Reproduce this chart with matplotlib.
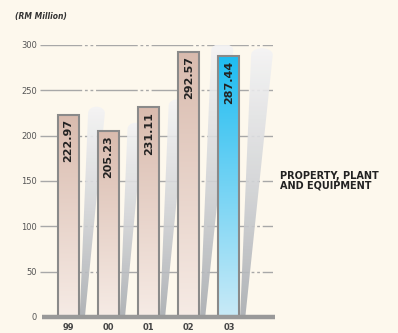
import numpy as np
import matplotlib.pyplot as plt
from matplotlib.patches import Rectangle, Polygon
from matplotlib.colors import LinearSegmentedColormap

# chart data
years = ['99', '00', '01', '02', '03']
values = [222.97, 205.23, 231.11, 292.57, 287.44]
yticks = [0, 50, 100, 150, 200, 250, 300]

bg = '#fdf8ed'
pink = LinearSegmentedColormap.from_list('pink', ['#d9bbae', '#f6ebe5'])
blue = LinearSegmentedColormap.from_list('blue', ['#1ebcf1', '#c9eaf7'])
grey = LinearSegmentedColormap.from_list('grey', ['#f4f4f5', '#d2d4d7', '#a8acb1'])
grad = np.linspace(0, 1, 256).reshape(-1, 1)

fig = plt.figure(figsize=(3.98, 3.33), dpi=100, facecolor=bg)
ax = fig.add_axes([40 / 398, 16 / 333, 233 / 398, 272 / 333])
ax.set_facecolor(bg)
for s in ax.spines.values():
    s.set_visible(False)

xmin, xmax = -0.71, 5.1
width = 0.52

# dash-dot gridlines
for y in yticks[1:]:
    ax.plot([xmin, xmax], [y, y], color='#a8a8a8', lw=1.0,
            dashes=(30, 2, 2, 2, 2, 2), zorder=1, solid_capstyle='butt')

# bars, shadows and labels
for i, (yr, v) in enumerate(zip(years, values)):
    k = v / max(values)
    right = i + width / 2
    # shadow wedge leaning right, rounded top
    tl = right + 0.30 * k
    tr = right + 0.85 * k
    arc = np.linspace(0, np.pi, 12)
    top_pts = [((tl + tr) / 2 - (tr - tl) / 2 * np.cos(a), v + 2 + 7 * np.sin(a)) for a in arc]
    pts = [(right + 0.02, 0), (right + 0.15, 0)] + top_pts[::-1]
    shadow = Polygon(pts, closed=True, facecolor='none', edgecolor='none')
    ax.add_patch(shadow)
    im = ax.imshow(grad, cmap=grey, aspect='auto', origin='upper',
                   extent=(right, tr + 0.05, 0, v + 10), zorder=2, alpha=0.9)
    im.set_clip_path(shadow)

    # bar with vertical gradient
    cmap = blue if i == len(years) - 1 else pink
    bar = Rectangle((i - width / 2, 0), width, v, facecolor='none',
                    edgecolor='#8a8a8a', lw=1.5, zorder=4)
    ax.add_patch(bar)
    im = ax.imshow(grad, cmap=cmap, aspect='auto', origin='upper',
                   extent=(i - width / 2, i + width / 2, 0, v), zorder=3)
    im.set_clip_path(bar)

    ax.text(i, v - 5, f'{v:.2f}', rotation=90, ha='center', va='top',
            fontsize=8, fontweight='bold', color='#222222', zorder=5)

# base line
ax.plot([xmin + 0.05, xmax + 0.05], [0, 0], color='#999999', lw=3.2,
        zorder=6, clip_on=False, solid_capstyle='butt')

ax.set_xlim(xmin, xmax)
ax.set_ylim(0, 300)
ax.set_xticks(range(len(years)))
ax.set_xticklabels(years, fontsize=6, fontweight='bold', color='#444444')
ax.set_yticks(yticks)
ax.set_yticklabels([str(t) for t in yticks], fontsize=6, color='#555555')
ax.tick_params(axis='both', length=0)
ax.tick_params(axis='x', pad=4)
ax.tick_params(axis='y', pad=2)

fig.text(15 / 398, 1 - 17 / 333, '(RM Million)', fontsize=5.5, fontweight='bold',
         fontstyle='italic', va='center', color='#333333')
fig.text(280 / 398, 1 - 181 / 333, 'PROPERTY, PLANT\nAND EQUIPMENT', fontsize=7,
         fontweight='bold', va='center', ha='left', linespacing=0.95, color='#222222')

fig.savefig('out.png', dpi=100, facecolor=bg)
